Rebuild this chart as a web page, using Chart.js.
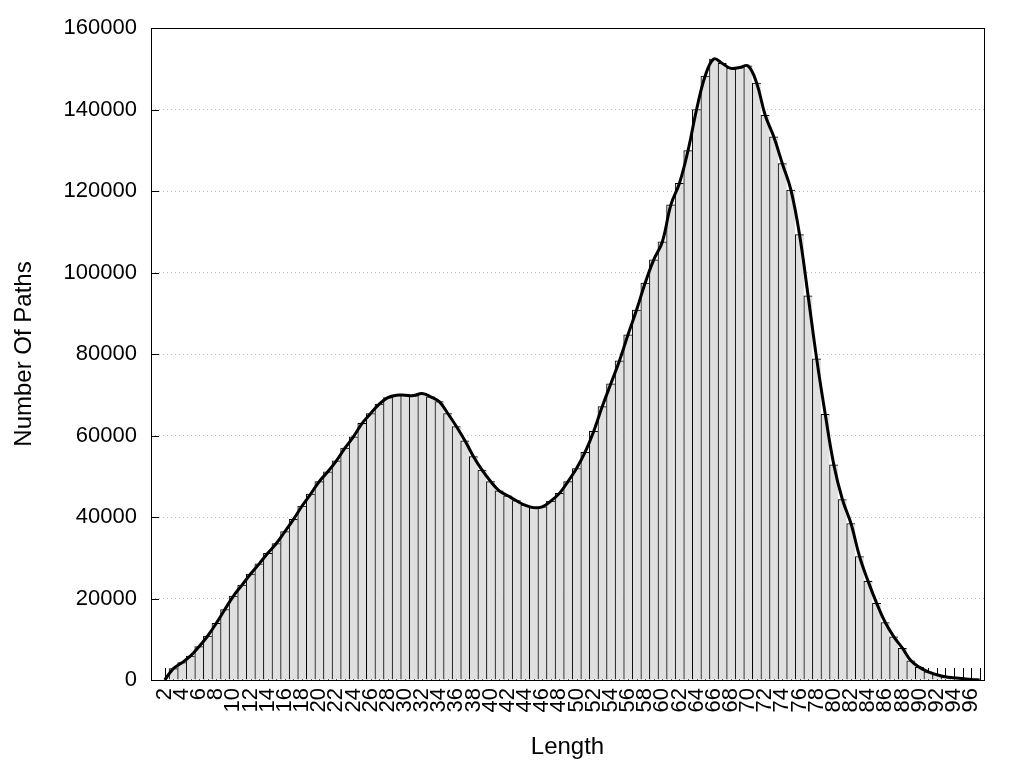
<!DOCTYPE html>
<html>
<head>
<meta charset="utf-8">
<script src="https://cdn.jsdelivr.net/npm/chart.js@4"></script>
<style>
    html, body { margin: 0; padding: 0; background: #fff; }
    #chart { display: block; }
</style>
</head>
<body>
<canvas id="chart" width="1024" height="768"></canvas>
<script>
// Path length categories (last one only closes the curve at the right border)
const lengths = [
    2, 3, 4, 5, 6, 7, 8, 9, 10, 11, 12, 13, 14, 15, 16, 17, 18, 19, 20, 21,
    22, 23, 24, 25, 26, 27, 28, 29, 30, 31, 32, 33, 34, 35, 36, 37, 38, 39, 40, 41,
    42, 43, 44, 45, 46, 47, 48, 49, 50, 51, 52, 53, 54, 55, 56, 57, 58, 59, 60, 61,
    62, 63, 64, 65, 66, 67, 68, 69, 70, 71, 72, 73, 74, 75, 76, 77, 78, 79, 80, 81,
    82, 83, 84, 85, 86, 87, 88, 89, 90, 91, 92, 93, 94, 95, 96, 97
];

// Number of paths for each length
const pathCounts = [
    0, 2800, 4250, 5900, 8200, 10800, 13900, 17300, 20600, 23300,
    26000, 28500, 31100, 33500, 36400, 39400, 42700, 45600, 48700, 51100,
    53800, 56900, 59700, 63000, 65400, 67700, 69300, 69900, 69900, 69800,
    70300, 69500, 68300, 65400, 62200, 58700, 54800, 51500, 48700, 46400,
    45200, 44000, 42900, 42300, 42500, 43900, 45800, 48700, 51900, 55900,
    61000, 67100, 72700, 78300, 84700, 90800, 97400, 103100, 107500, 116600,
    121900, 129900, 140000, 148200, 152400, 151300, 150100, 150300, 150700, 146500,
    138600, 133300, 126700, 120200, 109300, 94300, 78800, 65200, 52800, 44300,
    38400, 30300, 24200, 18800, 14100, 10600, 7800, 4700, 3100, 2000,
    1300, 800, 550, 350, 150, 0
];

// Labels shown under the x axis
const xTickLabels = [
    '2', '4', '6', '8', '10', '12', '14', '16', '18', '20', '22', '24', '26', '28', '30', '32',
    '34', '36', '38', '40', '42', '44', '46', '48', '50', '52', '54', '56', '58', '60', '62', '64',
    '66', '68', '70', '72', '74', '76', '78', '80', '82', '84', '86', '88', '90', '92', '94', '96'
];
const yTicks = [0, 20000, 40000, 60000, 80000, 100000, 120000, 140000, 160000];

const points = lengths.map((len, i) => ({ x: len, y: pathCounts[i] }));

const tickFont = { family: 'Liberation Sans, Arial, sans-serif', size: 22 };
const titleFont = { family: 'Liberation Sans, Arial, sans-serif', size: 24 };

// gnuplot style frame and inward tick marks
const framePlugin = {
    id: 'frame',
    beforeDatasetsDraw(chart) {
        const { ctx, chartArea: a, scales: { x, y } } = chart;
        ctx.save();
        ctx.strokeStyle = '#000';
        ctx.lineWidth = 1;
        ctx.beginPath();
        x.ticks.forEach(t => {
            const px = Math.round(x.getPixelForValue(t.value)) + 0.5;
            ctx.moveTo(px, a.bottom);
            ctx.lineTo(px, a.bottom - 12);
        });
        y.ticks.forEach(t => {
            const py = Math.round(y.getPixelForValue(t.value)) + 0.5;
            ctx.moveTo(a.left, py);
            ctx.lineTo(a.left + 8, py);
        });
        ctx.stroke();
        ctx.restore();
    },
    afterDatasetsDraw(chart) {
        const { ctx, chartArea: a } = chart;
        ctx.save();
        ctx.strokeStyle = '#000';
        ctx.lineWidth = 1;
        ctx.strokeRect(Math.round(a.left) + 0.5, Math.round(a.top) + 0.5,
            Math.round(a.right - a.left), Math.round(a.bottom - a.top));
        ctx.restore();
    }
};

const ctx = document.getElementById('chart').getContext('2d');
new Chart(ctx, {
    data: {
        datasets: [
            {
                type: 'line',
                data: points,
                borderColor: '#000',
                borderWidth: 3,
                pointRadius: 0,
                tension: 0.4,
                fill: false,
                order: 0
            },
            {
                type: 'bar',
                data: points,
                backgroundColor: '#e0e0e0',
                borderColor: '#000',
                borderWidth: { left: 1, top: 1, right: 0, bottom: 0 },
                barPercentage: 1,
                categoryPercentage: 1,
                order: 1
            }
        ]
    },
    options: {
        responsive: false,
        animation: false,
        layout: { padding: { top: 28, right: 40, left: 0, bottom: 0 } },
        plugins: {
            legend: { display: false },
            tooltip: { enabled: false }
        },
        scales: {
            x: {
                type: 'linear',
                min: 0.9,
                max: 97,
                afterBuildTicks: scale => {
                    scale.ticks = lengths.map(v => ({ value: v }));
                },
                afterFit: scale => { scale.height = 88; },
                ticks: {
                    autoSkip: false,
                    minRotation: 90,
                    maxRotation: 90,
                    padding: 8,
                    color: '#000',
                    font: tickFont,
                    callback: value => xTickLabels.includes(String(value)) ? String(value) : ''
                },
                grid: { display: true, drawOnChartArea: false, drawTicks: false },
                border: { display: false },
                title: {
                    display: true,
                    text: 'Length',
                    color: '#000',
                    font: titleFont,
                    padding: { top: 0, bottom: 6 }
                }
            },
            y: {
                min: 0,
                max: 160000,
                afterBuildTicks: scale => {
                    scale.ticks = yTicks.map(v => ({ value: v }));
                },
                afterFit: scale => { scale.width = 151; },
                ticks: {
                    padding: 14,
                    color: '#000',
                    font: tickFont,
                    callback: value => String(value)
                },
                grid: { color: '#bbbbbb', drawTicks: false, lineWidth: 1 },
                border: { display: false, dash: [1, 3] },
                title: {
                    display: true,
                    text: 'Number Of Paths',
                    color: '#000',
                    font: titleFont,
                    padding: { top: 10, bottom: 0 }
                }
            }
        }
    },
    plugins: [framePlugin]
});
</script>
</body>
</html>
